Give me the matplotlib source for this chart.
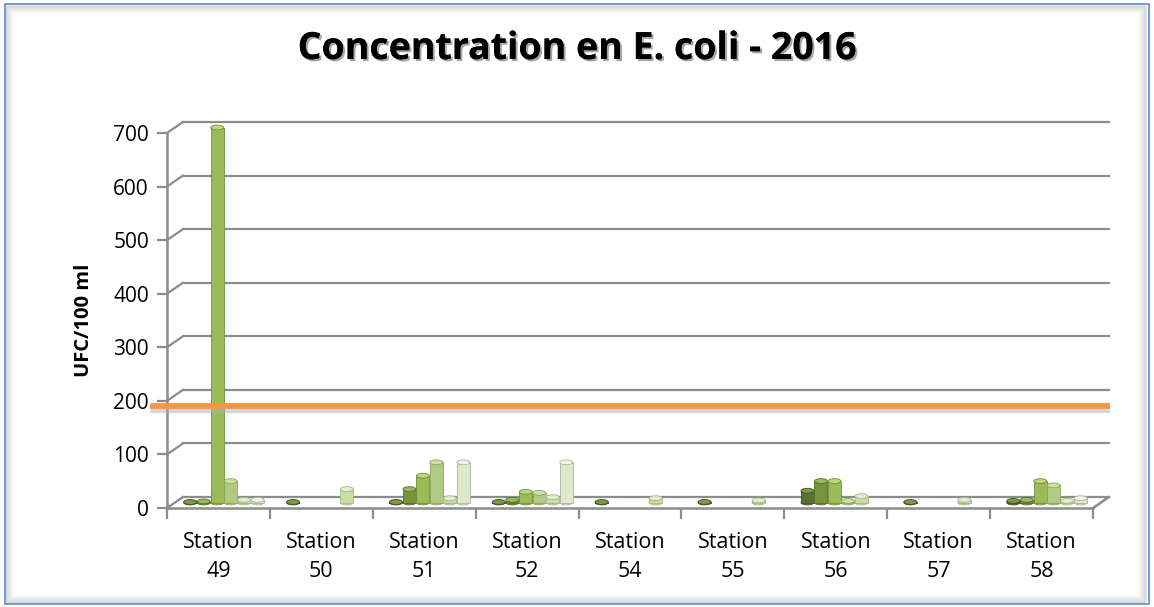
import matplotlib
matplotlib.use("Agg")
import matplotlib.pyplot as plt
import matplotlib.patheffects as pe
from matplotlib.patches import Ellipse, Rectangle

plt.rcParams["font.family"] = ["Open Sans", "DejaVu Sans"]

# données (UFC/100 ml)
stations = ["Station\n49", "Station\n50", "Station\n51", "Station\n52", "Station\n54",
            "Station\n55", "Station\n56", "Station\n57", "Station\n58"]
serie1 = [1, 1, 1, 1, 1, 1, 22, 1, 3]
serie2 = [2, 0, 25, 5, 0, 0, 40, 0, 5]
serie3 = [700, 0, 50, 20, 0, 0, 40, 0, 40]
serie4 = [40, 0, 75, 18, 0, 0, 3, 0, 32]
serie5 = [5, 25, 8, 10, 8, 4, 12, 5, 3]
serie6 = [5, 0, 75, 75, 0, 0, 0, 0, 8]
limite = 190
yticks = [0, 100, 200, 300, 400, 500, 600, 700]

series = [serie1, serie2, serie3, serie4, serie5, serie6]
couleurs = ["#5a7230", "#77933c", "#9bbb59", "#b2ca83", "#cbdca8", "#dfe8cc"]
bords = ["#3f5220", "#55702a", "#6f8f3a", "#8aa65c", "#a3b884", "#a9b49a"]
tops = ["#7e9a48", "#9ab85c", "#bcd684", "#cfe0a6", "#e3edd0", "#f2f6ea"]

W, H = 1154, 607
fig = plt.figure(figsize=(W / 100, H / 100), dpi=100)
fig.patch.set_facecolor("white")

# cadre avec ombre
for i in range(8):
    a = 0.10 * (1 - i / 8)
    fig.patches.append(Rectangle(((6 + i) / W, (4 + i) / H), (W - 14 - 2 * i) / W, (H - 10 - 2 * i) / H,
                                 transform=fig.transFigure, fill=False, ec="black", lw=1.2, alpha=a))
fig.patches.append(Rectangle((5 / W, 3 / H), (W - 10) / W, (H - 7) / H, transform=fig.transFigure,
                             fill=False, ec="#5b8bd0", lw=1.2))

ax = fig.add_axes([167 / W, 1 - 508 / H, 926 / W, 375 / H])
ax.set_xlim(-0.5, 8.5)
ax.set_ylim(0, 700)
ax.patch.set_alpha(0)
for s in ax.spines.values():
    s.set_visible(False)

gris = "#8c8c8c"
dx, dy = 0.155, 20.5   # profondeur 3D

# mur du fond + diagonales
for v in yticks:
    ax.plot([-0.5 + dx, 8.5 + dx], [v + dy, v + dy], color=gris, lw=1.6, clip_on=False, zorder=1)
    ax.plot([-0.5, -0.5 + dx], [v, v + dy], color=gris, lw=1.6, clip_on=False, zorder=1)
# sol
ax.plot([-0.5, 8.5], [0, 0], color=gris, lw=1.8, clip_on=False, zorder=1)
ax.plot([8.5, 8.5 + dx], [0, dy], color=gris, lw=1.8, clip_on=False, zorder=1)
ax.plot([-0.5, -0.5], [0, 700], color=gris, lw=1.8, clip_on=False, zorder=1)

# cylindres
bw = 0.131
eh = 9
for k, vals in enumerate(series):
    for i, v in enumerate(vals):
        if v <= 0:
            continue
        x = i + (k - 2.1) * bw
        base = dy / 2
        ax.bar(x, v, width=bw * 0.96, bottom=base, color=couleurs[k], edgecolor=bords[k],
               lw=0.6, zorder=3 + k, clip_on=False)
        ax.add_patch(Ellipse((x, base), bw * 0.96, eh, fc=couleurs[k], ec=bords[k], lw=0.6,
                             zorder=2.9 + k, clip_on=False))
        ax.add_patch(Ellipse((x, base + v), bw * 0.96, eh, fc=tops[k], ec=bords[k], lw=0.6,
                             zorder=3 + k, clip_on=False))

# ligne limite orange avec ombre
ax.plot([-0.018, 1.018], [limite - 5, limite - 5], transform=ax.get_yaxis_transform(),
        color="#b0b0b0", lw=6, alpha=0.5, solid_capstyle="butt", clip_on=False, zorder=20)
ax.plot([-0.018, 1.018], [limite, limite], transform=ax.get_yaxis_transform(),
        color="#f79646", lw=4.2, solid_capstyle="butt", clip_on=False, zorder=21)

ax.set_yticks(yticks)
ax.set_yticklabels([str(t) for t in yticks], fontsize=15)
ax.tick_params(axis="y", length=7, width=1.6, color=gris, pad=6)
ax.set_xticks(range(len(stations)))
ax.set_xticklabels(stations, fontsize=15.5, linespacing=1.55)
ax.tick_params(axis="x", which="major", length=0, pad=17)
ax.set_xticks([i - 0.5 for i in range(len(stations) + 1)], minor=True)
ax.tick_params(axis="x", which="minor", length=8, width=1.6, color=gris)

ax.set_ylabel("UFC/100 ml", fontsize=14.5, fontweight="bold", labelpad=14)

fig.text(0.5, 1 - 49 / H, "Concentration en E. coli - 2016", ha="center", va="center",
         fontsize=27, fontweight="bold",
         path_effects=[pe.withSimplePatchShadow(offset=(1.5, -1.5), alpha=0.35), pe.Normal()])

fig.savefig("out.png", dpi=100)
